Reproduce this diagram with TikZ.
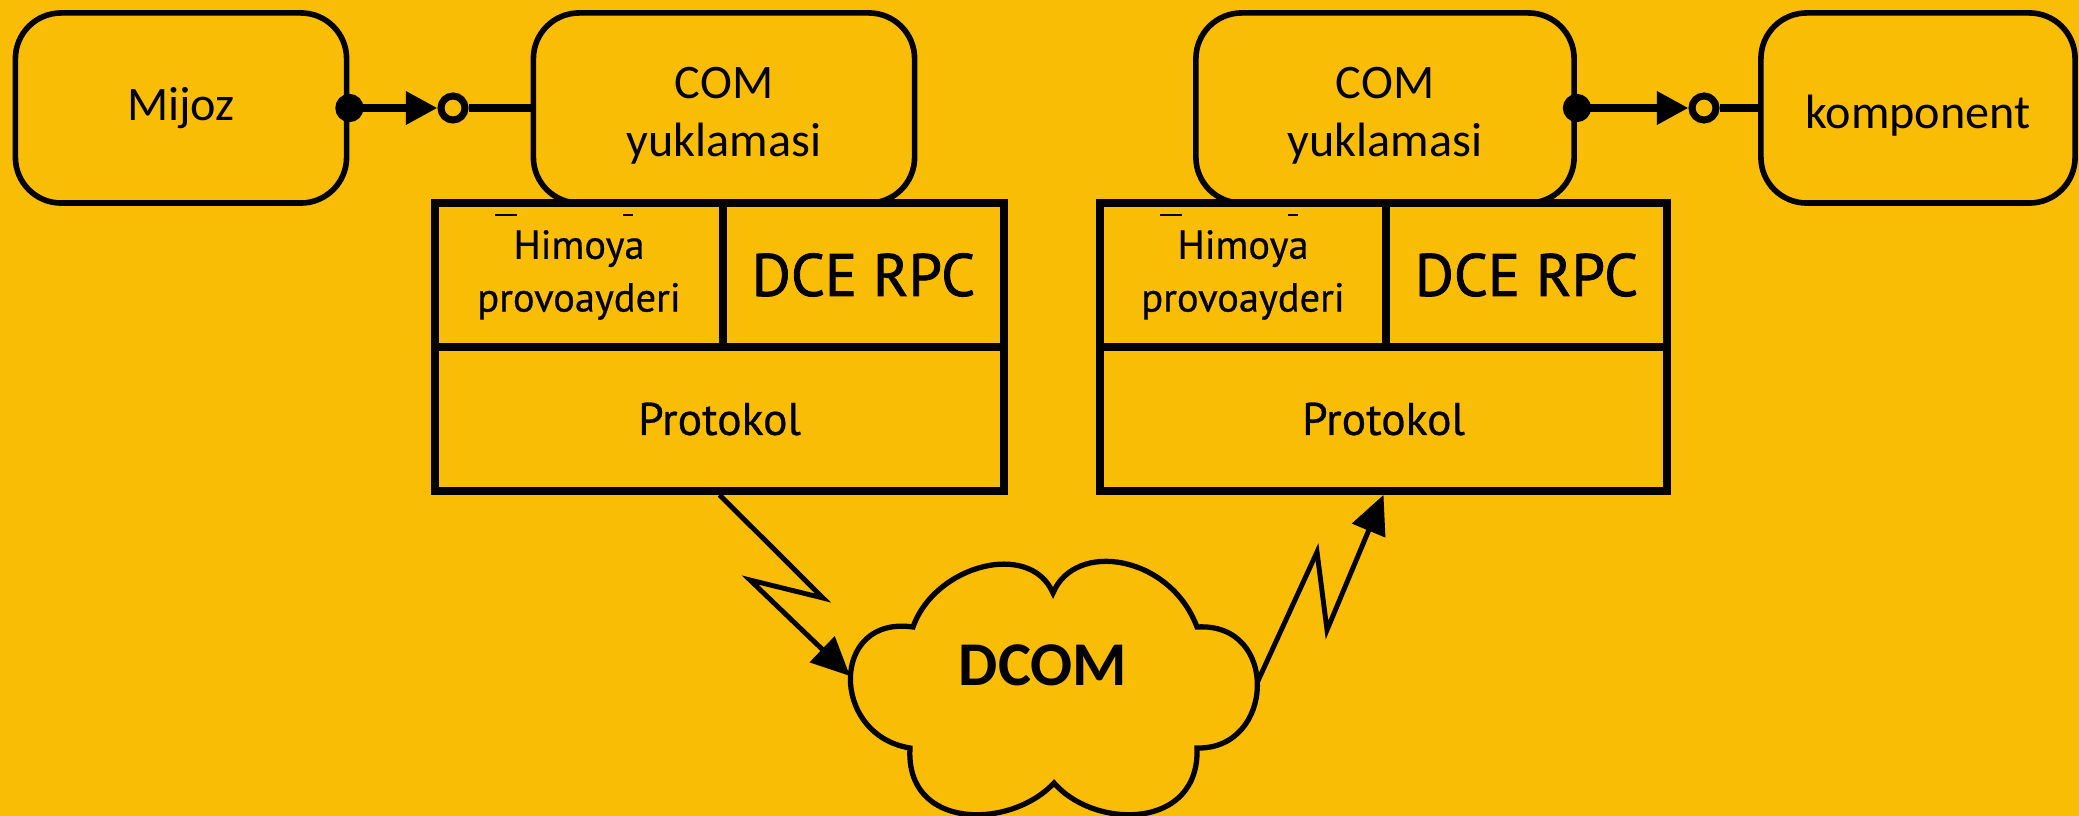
\documentclass[tikz,border=0pt]{standalone}
\usepackage{fontspec}
\setmainfont{Carlito}
\newfontfamily\dinfont[FakeBold=0.6]{PT Sans}
\newfontfamily\dcefont[FakeBold=1.4]{PT Sans}
\usetikzlibrary{arrows.meta,positioning}
\definecolor{bgyellow}{RGB}{250,189,5}

\tikzset{
    rbox/.style={draw, line width=1.6pt, rounded corners=13pt, minimum height=1.9cm,
        align=center, inner sep=0pt, font=\fontsize{13.7}{16.5}\selectfont},
    cell/.style={draw, line width=2.2pt, minimum height=1.44cm, align=center,
        inner sep=0pt, font=\dinfont\fontsize{11.5}{15}\selectfont},
    dcetext/.style={font=\dcefont\fontsize{17}{20}\selectfont},
    prottext/.style={font=\dinfont\fontsize{13}{15}\selectfont},
    port/.style={circle, draw, line width=2pt, minimum size=0.24cm, inner sep=0pt},
    plug/.style={line width=2.2pt, shorten <=-4pt,
        {Circle[length=8pt]}-{Triangle[length=9pt,width=9pt]}},
    bolt/.style={line width=1.4pt, -{Triangle[length=11pt,width=10pt]}},
}

\begin{document}
\begin{tikzpicture}[x=0.01cm, y=-0.01cm]
    \useasboundingbox (0,0) rectangle (2079,816);
    \fill[bgyellow] (0,0) rectangle (2079,816);

    % top row
    \node[rbox, minimum width=3.31cm] (mijoz) at (181,108) {Mijoz};
    \node[rbox, minimum width=3.81cm] (comL) at (724,108) {\rule{0pt}{13.5pt}COM\\yuklamasi};
    \node[rbox, minimum width=3.78cm] (comR) at (1385,108) {\rule{0pt}{13.5pt}COM\\yuklamasi};
    \node[rbox, minimum width=3.14cm] (komp) at (1918,108) {\rule{0pt}{14pt}komponent};

    % left stack
    \node[cell, minimum width=2.88cm] (himL) at (579,275) {Himoya\\provoayderi};
    \node[cell, dcetext, minimum width=2.81cm] (dceL) at (863.5,275) {DCE RPC};
    \node[cell, prottext, minimum width=5.69cm] (protL) at (719.5,419) {Protokol};
    \draw[line width=0.8pt] (495,215) -- (517,215) (623,215) -- (633,215);

    % right stack
    \node[cell, minimum width=2.86cm] (himR) at (1243,275) {Himoya\\provoayderi};
    \node[cell, dcetext, minimum width=2.81cm] (dceR) at (1526.5,275) {DCE RPC};
    \node[cell, prottext, minimum width=5.67cm] (protR) at (1383.5,419) {Protokol};
    \draw[line width=0.8pt] (1160,215) -- (1182,215) (1288,215) -- (1298,215);

    % interfaces
    \node[port] (portL) at (453,108) {};
    \node[port] (portR) at (1704,108) {};
    \draw[plug] (mijoz.east) -- (portL.west);
    \draw[line width=2.2pt] (portL.east) -- (comL.west);
    \draw[plug] (comR.east) -- (portR.west);
    \draw[line width=2.2pt] (portR.east) -- (komp.west);

    % network cloud
    \draw[line width=1.5pt] (913,627)
        .. controls (935,565) and (1030,540) .. (1053,593)
        .. controls (1075,540) and (1170,555) .. (1197,627)
        .. controls (1280,622) and (1275,750) .. (1197,748)
        .. controls (1200,830) and (1095,830) .. (1054,783)
        .. controls (1010,830) and (905,830) .. (910,748)
        .. controls (830,735) and (830,615) .. cycle;
    \node[font=\bfseries\fontsize{17.7}{20}\selectfont] (dcom) at (1043,665) {DCOM};
    \coordinate (cloudW) at (850,676);
    \coordinate (cloudE) at (1257,683);

    % lightning links
    \draw[bolt] (protL.south) -- (823,598) -- (750,580) -- (cloudW);
    \draw[bolt] (cloudE) -- (1317,552) -- (1327,630) -- (protR.south);
\end{tikzpicture}
\end{document}
